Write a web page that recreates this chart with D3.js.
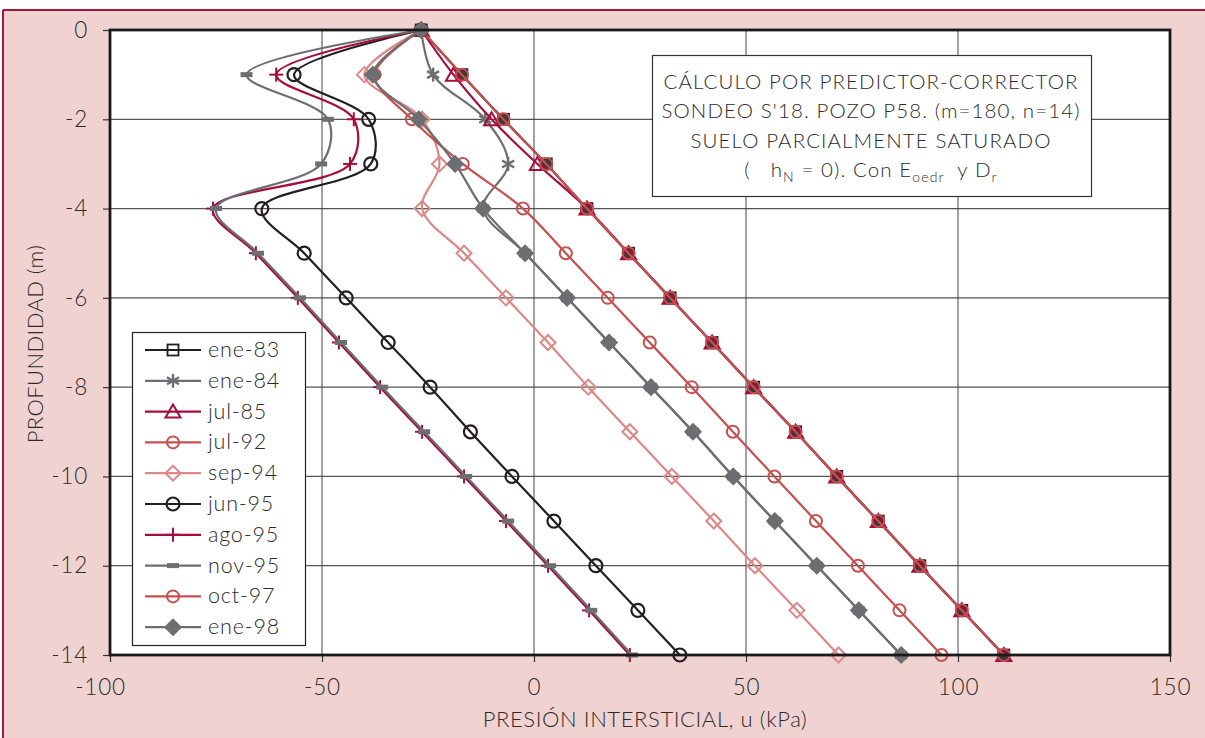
<!DOCTYPE html>
<html>
<head>
<meta charset="utf-8">
<script src="https://cdn.jsdelivr.net/npm/d3@7"></script>
<style>
  html, body { margin: 0; padding: 0; background: #ffffff; }
  svg { display: block; }
  text { font-family: "Lato", "Open Sans", "DejaVu Sans", sans-serif; font-weight: 300; fill: #2b2b2b; }
</style>
</head>
<body>
<svg id="chart" width="1205" height="738"></svg>
<script>
// ---------------- DATA ----------------
const depths = [0, -1, -2, -3, -4, -5, -6, -7, -8, -9, -10, -11, -12, -13, -14];

const ene83 = [-26.6, -17.0, -7.2, 2.9, 12.5, 22.3, 32.1, 42.0, 51.8, 61.7, 71.4, 81.2, 91.0, 100.9, 110.8];
const ene84 = [-26.6, -23.8, -11.5, -6.1, -12.0, -2.1, 7.8, 17.7, 27.6, 37.5, 47.0, 56.8, 66.7, 76.6, 86.6];
const jul85 = [-26.6, -19.0, -10.0, 0.8, 12.5, 22.3, 32.1, 42.0, 51.8, 61.7, 71.4, 81.2, 91.0, 100.9, 110.8];
const jul92 = [-26.6, -17.0, -7.2, 2.9, 12.5, 22.3, 32.1, 42.0, 51.8, 61.7, 71.4, 81.2, 91.0, 100.9, 110.8];
const sep94 = [-26.6, -40.0, -26.4, -22.3, -26.4, -16.5, -6.6, 3.3, 12.8, 22.6, 32.5, 42.4, 52.1, 62.0, 71.8];
const jun95 = [-26.6, -56.6, -39.0, -38.5, -64.2, -54.2, -44.3, -34.4, -24.5, -15.0, -5.2, 4.7, 14.6, 24.5, 34.4];
const ago95 = [-26.6, -60.8, -42.5, -43.4, -75.7, -65.6, -55.7, -46.0, -36.3, -26.4, -16.5, -6.6, 3.3, 13.0, 22.6];
const nov95 = [-26.6, -67.8, -48.6, -50.2, -75.0, -65.1, -55.2, -45.5, -35.8, -25.9, -16.0, -6.1, 3.8, 13.5, 23.1];
const oct97 = [-26.6, -37.6, -28.8, -16.8, -2.6, 7.5, 17.4, 27.3, 37.2, 46.9, 56.7, 66.5, 76.4, 86.2, 96.1];
const ene98 = [-26.6, -38.0, -27.2, -18.6, -12.0, -2.1, 7.8, 17.7, 27.6, 37.5, 47.0, 56.8, 66.7, 76.6, 86.6];

const seriesNames = ["ene-83", "ene-84", "jul-85", "jul-92", "sep-94", "jun-95", "ago-95", "nov-95", "oct-97", "ene-98"];
const seriesValues = [ene83, ene84, jul85, jul92, sep94, jun95, ago95, nov95, oct97, ene98];

const xTicks = [-100, -50, 0, 50, 100, 150];
const yTicks = [0, -2, -4, -6, -8, -10, -12, -14];
const xTickLabels = ["-100", "-50", "0", "50", "100", "150"];
const yTickLabels = ["0", "-2", "-4", "-6", "-8", "-10", "-12", "-14"];

const xTitle = "PRESIÓN INTERSTICIAL, u (kPa)";
const yTitle = "PROFUNDIDAD (m)";
const noteLines = ["CÁLCULO POR PREDICTOR-CORRECTOR", "SONDEO S'18. POZO P58. (m=180, n=14)", "SUELO PARCIALMENTE SATURADO"];

// ---------------- STYLE ----------------
const BLACK = "#231f20", GRAY = "#6d6e71", CRIMSON = "#a50d3c", RED = "#c5504f", PINK = "#dd8886";
const styles = [
  { color: BLACK, marker: "square" },
  { color: GRAY, marker: "asterisk" },
  { color: CRIMSON, marker: "triangle" },
  { color: RED, marker: "circle" },
  { color: PINK, marker: "diamond" },
  { color: BLACK, marker: "circleL" },
  { color: CRIMSON, marker: "plus" },
  { color: GRAY, marker: "dash" },
  { color: RED, marker: "circle" },
  { color: GRAY, marker: "diamondF" }
];

const svg = d3.select("#chart");
const W = 1205, H = 738;
const plot = { left: 110, right: 1170, top: 30, bottom: 655 };

const x = d3.scaleLinear().domain([-100, 150]).range([plot.left, plot.right]);
const y = d3.scaleLinear().domain([0, -14]).range([plot.top, plot.bottom]);

// background
svg.append("rect").attr("x", 0).attr("y", 0).attr("width", W).attr("height", H).attr("fill", "#ffffff");
svg.append("rect").attr("x", 3).attr("y", 10).attr("width", W - 3).attr("height", H - 10).attr("fill", "#f0d3d0");
svg.append("line").attr("x1", 3).attr("x2", W).attr("y1", 10).attr("y2", 10).attr("stroke", "#b0123f").attr("stroke-width", 2);
svg.append("line").attr("x1", 3).attr("x2", 3).attr("y1", 10).attr("y2", H).attr("stroke", "#b0123f").attr("stroke-width", 2);

// plot area
svg.append("rect").attr("x", plot.left).attr("y", plot.top)
  .attr("width", plot.right - plot.left).attr("height", plot.bottom - plot.top).attr("fill", "#ffffff");

// grid
const grid = svg.append("g");
grid.selectAll("line.h").data(yTicks.slice(1, -1)).enter().append("line")
  .attr("x1", plot.left).attr("x2", plot.right)
  .attr("y1", d => y(d)).attr("y2", d => y(d))
  .attr("stroke", "#555555").attr("stroke-width", 1.2);
grid.selectAll("line.v").data(xTicks.slice(1, -1)).enter().append("line")
  .attr("y1", plot.top).attr("y2", plot.bottom)
  .attr("x1", d => x(d)).attr("x2", d => x(d))
  .attr("stroke", "#444444").attr("stroke-width", 1);

// axes
const xAxis = d3.axisBottom(x).tickValues(xTicks).tickSize(7).tickPadding(10)
  .tickFormat((d, i) => xTickLabels[i]);
const yAxis = d3.axisLeft(y).tickValues(yTicks).tickSize(7).tickPadding(15)
  .tickFormat((d, i) => yTickLabels[i]);

const gx = svg.append("g").attr("transform", `translate(0,${plot.bottom})`).call(xAxis);
const gy = svg.append("g").attr("transform", `translate(${plot.left},0)`).call(yAxis);
[gx, gy].forEach(g => {
  g.select(".domain").remove();
  g.selectAll(".tick line").attr("stroke", "#333").attr("stroke-width", 1.2);
  g.selectAll(".tick text").attr("font-size", 22.5).attr("fill", "#2b2b2b").attr("letter-spacing", 0.8)
    .style("font-family", '"Lato", "Open Sans", "DejaVu Sans", sans-serif').style("font-weight", 300);
});
gx.selectAll(".tick text").attr("dy", "1em");
gx.selectAll(".tick text").filter(d => d === xTicks[0]).attr("dx", -10);

// clip
svg.append("clipPath").attr("id", "clip").append("rect")
  .attr("x", plot.left).attr("y", plot.top - 12).attr("width", plot.right - plot.left).attr("height", plot.bottom - plot.top + 24);

// markers
function drawMarker(g, type, color, cx, cy, legend) {
  const m = g.append("g").attr("transform", `translate(${cx},${cy})`);
  switch (type) {
    case "square":
      m.append("rect").attr("x", -5.5).attr("y", -5.5).attr("width", 11).attr("height", 11)
        .attr("fill", legend ? "none" : "#3a3a3a").attr("stroke", color).attr("stroke-width", 1.8);
      break;
    case "asterisk":
      [[0, -7, 0, 7], [-6, -3.5, 6, 3.5], [-6, 3.5, 6, -3.5]].forEach(l =>
        m.append("line").attr("x1", l[0]).attr("y1", l[1]).attr("x2", l[2]).attr("y2", l[3])
          .attr("stroke", color).attr("stroke-width", 2.4));
      break;
    case "triangle":
      m.append("path").attr("d", "M0,-7 L7.5,6 L-7.5,6 Z")
        .attr("fill", "none").attr("stroke", color).attr("stroke-width", 2);
      break;
    case "circle":
      m.append("circle").attr("r", 6).attr("fill", "none").attr("stroke", color).attr("stroke-width", 2);
      break;
    case "circleL":
      m.append("circle").attr("r", 6.5).attr("fill", "none").attr("stroke", color).attr("stroke-width", 2.2);
      break;
    case "diamond":
      m.append("path").attr("d", "M0,-7.5 L7.5,0 L0,7.5 L-7.5,0 Z")
        .attr("fill", "none").attr("stroke", color).attr("stroke-width", 2);
      break;
    case "diamondF":
      m.append("path").attr("d", "M0,-8 L8,0 L0,8 L-8,0 Z")
        .attr("fill", color).attr("stroke", color).attr("stroke-width", 1.5);
      break;
    case "plus":
      m.append("line").attr("x1", -7).attr("x2", 7).attr("y1", 0).attr("y2", 0).attr("stroke", color).attr("stroke-width", 2);
      m.append("line").attr("x1", 0).attr("x2", 0).attr("y1", -7).attr("y2", 7).attr("stroke", color).attr("stroke-width", 2);
      break;
    case "dash":
      m.append("rect").attr("x", -6).attr("y", -2.5).attr("width", 12).attr("height", 5).attr("fill", color);
      break;
  }
}

const line = d3.line().x(d => x(d[0])).y(d => y(d[1])).curve(d3.curveCatmullRom.alpha(0.5));
const seriesG = svg.append("g").attr("clip-path", "url(#clip)");
seriesValues.forEach((vals, i) => {
  const pts = vals.map((v, j) => [v, depths[j]]);
  const g = seriesG.append("g");
  g.append("path").datum(pts).attr("d", line).attr("fill", "none")
    .attr("stroke", styles[i].color).attr("stroke-width", 2.2);
  pts.forEach(p => drawMarker(g, styles[i].marker, styles[i].color, x(p[0]), y(p[1]), false));
});

// frame
svg.append("rect").attr("x", plot.left).attr("y", plot.top)
  .attr("width", plot.right - plot.left).attr("height", plot.bottom - plot.top)
  .attr("fill", "none").attr("stroke", "#1a1a1a").attr("stroke-width", 2.8);

// axis titles
svg.append("text").attr("x", 645).attr("y", 727).attr("text-anchor", "middle")
  .attr("font-size", 22).attr("letter-spacing", 0.6).text(xTitle);
svg.append("text").attr("transform", "translate(43,344) rotate(-90)").attr("text-anchor", "middle")
  .attr("font-size", 22).attr("letter-spacing", 0.4).text(yTitle);

// legend
const lg = svg.append("g");
lg.append("rect").attr("x", 132.5).attr("y", 332.5).attr("width", 173).attr("height", 313)
  .attr("fill", "#ffffff").attr("stroke", "#222").attr("stroke-width", 1.2);
seriesNames.forEach((name, i) => {
  const ly = 350 + i * 30.8;
  lg.append("line").attr("x1", 145).attr("x2", 201).attr("y1", ly).attr("y2", ly)
    .attr("stroke", styles[i].color).attr("stroke-width", 2.2);
  drawMarker(lg, styles[i].marker, styles[i].color, 173, ly, true);
  lg.append("text").attr("x", 208).attr("y", ly + 7).attr("font-size", 21.5)
    .attr("letter-spacing", 0.8).text(name);
});

// note box
const ng = svg.append("g");
ng.append("rect").attr("x", 652.5).attr("y", 55.5).attr("width", 439).attr("height", 141)
  .attr("fill", "#ffffff").attr("stroke", "#333").attr("stroke-width", 1.2);
noteLines.forEach((t, i) => {
  ng.append("text").attr("x", 871).attr("y", 89 + i * 29.3).attr("text-anchor", "middle")
    .attr("font-size", 20.5).attr("letter-spacing", 1.1).text(t);
});
const l4 = ng.append("text").attr("x", 871).attr("y", 177).attr("text-anchor", "middle")
  .attr("font-size", 20.5).attr("letter-spacing", 1.1).attr("xml:space", "preserve");
l4.append("tspan").text("(\u00a0\u00a0 h");
l4.append("tspan").attr("font-size", 14).attr("dy", 5).text("N");
l4.append("tspan").attr("dy", -5).text(" = 0). Con E");
l4.append("tspan").attr("font-size", 14).attr("dy", 5).text("oedr");
l4.append("tspan").attr("dy", -5).text("\u00a0 y D");
l4.append("tspan").attr("font-size", 14).attr("dy", 5).text("r");
</script>
</body>
</html>
